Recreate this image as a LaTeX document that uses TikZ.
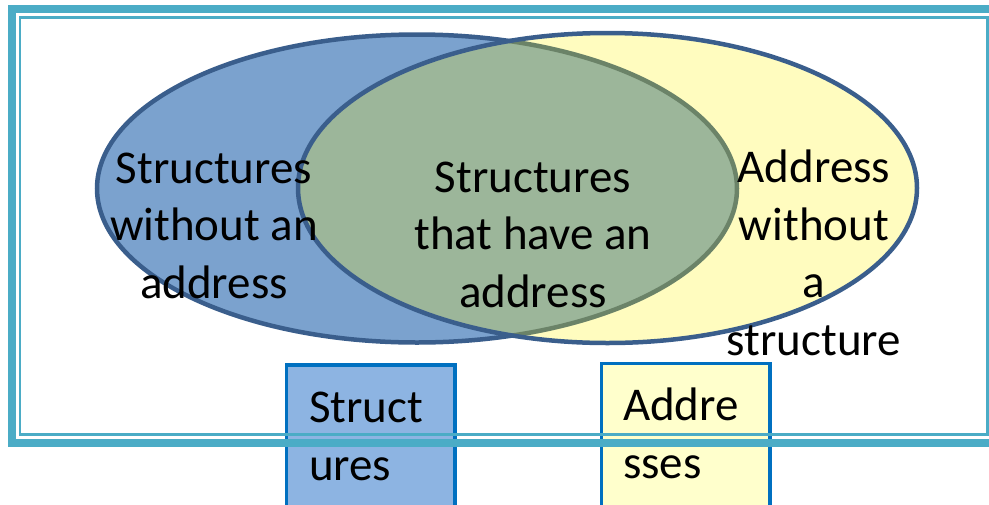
\documentclass[tikz,border=0pt]{standalone}
\usepackage{fontspec}
\setmainfont{Carlito}
\usepackage{tikz}
\definecolor{bandblue}{HTML}{4BACC6}
\definecolor{ringedge}{HTML}{3A5E8C}
\definecolor{strblue}{HTML}{7BA2CE}
\definecolor{boxblue}{HTML}{8DB4E2}
\definecolor{boxyellow}{HTML}{FFFFCC}
\definecolor{boxedge}{HTML}{0070C0}
\def\structellipse{(417,188.5) ellipse [x radius=320, y radius=154]}
\def\addrellipse{(607.5,188) ellipse [x radius=309.5, y radius=155]}

\begin{document}
\begin{tikzpicture}[x=1pt,y=-1pt,
    every node/.style={font=\fontsize{47}{57.5}\selectfont, inner sep=0pt, outer sep=0pt},
    setlabel/.style={align=center, anchor=base},
    listbox/.style={draw=boxedge, line width=3.3pt, anchor=north west,
        minimum width=168.5, minimum height=200}]
    \useasboundingbox (0,0) rectangle (989,504);
    \clip (0,0) rectangle (989,504);
    \path[fill=strblue, draw=ringedge, line width=4.5pt] \structellipse;
    \path[fill=yellow, fill opacity=0.25, draw=ringedge, line width=4.5pt] \addrellipse;
    \node[setlabel] (noaddr) at (214,298) {Structures\\without an\\address};
    \node[setlabel] (both) at (533,307) {Structures\\that have an\\address};
    \node[setlabel] (nostruct) at (814,355) {Address\\without\\a\\structure};
    \node[listbox, fill=boxblue] (strbox) at (286.5,365) {};
    \node[listbox, fill=boxyellow] (addrbox) at (601.5,363.5) {};
    \node[anchor=base west, align=left] (strtext) at (309,480) {Struct\\ures};
    \node[anchor=base west, align=left] (addrtext) at (623,478) {Addre\\sses};
    \draw[bandblue, line width=8pt] (12,9) rectangle (1010,443);
    \draw[bandblue, line width=2.5pt] (20,17.5) rectangle (987.5,434.5);
\end{tikzpicture}
\end{document}
